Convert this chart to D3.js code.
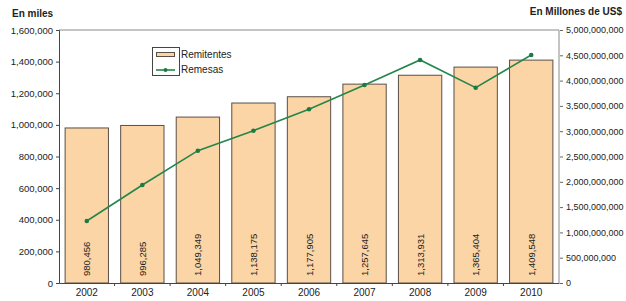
<!DOCTYPE html>
<html>
<head>
<meta charset="utf-8">
<script src="https://cdn.jsdelivr.net/npm/d3@7"></script>
<style>
  body { margin: 0; background: #fff; }
  text { font-family: "Liberation Sans", Arial, sans-serif; }
</style>
</head>
<body>
<svg id="drawing_region"></svg>
<script>
const years = ['2002', '2003', '2004', '2005', '2006', '2007', '2008', '2009', '2010'];
const remitentes = [980456, 996285, 1049349, 1138175, 1177905, 1257645, 1313931, 1365404, 1409548];
const remesas = [1225e6, 1937e6, 2615e6, 3010e6, 3433e6, 3913e6, 4407e6, 3860e6, 4506e6];
const leftTicks = [0, 200000, 400000, 600000, 800000, 1000000, 1200000, 1400000, 1600000];
const rightTicks = [0, 5e8, 1e9, 1.5e9, 2e9, 2.5e9, 3e9, 3.5e9, 4e9, 4.5e9, 5e9];

const width = 626, height = 301;
const margin = { top: 30, right: 67, bottom: 18, left: 59 };
const innerW = width - margin.left - margin.right;
const innerH = height - margin.top - margin.bottom;
const fmt = d3.format(',');

const svg = d3.select('#drawing_region')
  .attr('width', width)
  .attr('height', height);

const g = svg.append('g')
  .attr('transform', `translate(${margin.left},${margin.top})`);

const x = d3.scaleBand().domain(years).range([0, innerW]).paddingInner(0.22).paddingOuter(0.11);
const yL = d3.scaleLinear().domain([0, 1600000]).range([innerH, 0]);
const yR = d3.scaleLinear().domain([0, 5e9]).range([innerH, 0]);

// frame (top and right)
g.append('path')
  .attr('d', `M0,0H${innerW}V${innerH}`)
  .attr('fill', 'none')
  .attr('stroke', '#8a8a8a')
  .attr('stroke-width', 1);

// bars
g.selectAll('rect.bar')
  .data(remitentes)
  .enter()
  .append('rect')
  .attr('class', 'bar')
  .attr('x', (d, i) => x(years[i]))
  .attr('y', d => yL(d))
  .attr('width', x.bandwidth())
  .attr('height', d => innerH - yL(d))
  .attr('fill', '#fcd5a6')
  .attr('stroke', '#5a4f46')
  .attr('stroke-width', 1);

// bar labels
g.selectAll('text.val')
  .data(remitentes)
  .enter()
  .append('text')
  .attr('class', 'val')
  .attr('transform', (d, i) => `translate(${x(years[i]) + x.bandwidth() / 2 + 3.5},${innerH - 7}) rotate(-90)`)
  .attr('font-size', '9.5px')
  .attr('fill', '#222')
  .text(d => fmt(d));

// left axis
const axL = g.append('g')
  .call(d3.axisLeft(yL).tickValues(leftTicks).tickSize(3).tickPadding(3).tickFormat(fmt));
axL.select('.domain').attr('stroke', '#444');
axL.selectAll('.tick line').attr('stroke', '#444');
axL.selectAll('text').attr('font-size', '9.5px').attr('fill', '#222').attr('font-family', '"Liberation Sans", Arial, sans-serif');

// right axis
const axR = g.append('g')
  .attr('transform', `translate(${innerW + 1},0)`)
  .call(d3.axisRight(yR).tickValues(rightTicks).tickSize(3).tickPadding(3).tickFormat(fmt));
axR.select('.domain').remove();
axR.selectAll('.tick line').attr('stroke', '#666');
axR.selectAll('text').attr('font-size', '9px').attr('fill', '#222').attr('font-family', '"Liberation Sans", Arial, sans-serif');

// bottom axis
const axB = g.append('g')
  .attr('transform', `translate(0,${innerH})`)
  .call(d3.axisBottom(x).tickSize(0).tickPadding(6));
axB.select('.domain').attr('stroke', '#444');
axB.selectAll('text').attr('font-size', '10px').attr('fill', '#222').attr('font-family', '"Liberation Sans", Arial, sans-serif');
g.append('g').selectAll('line')
  .data(years.slice(1))
  .enter()
  .append('line')
  .attr('x1', d => x(d) - x.step() * x.paddingInner() / 2)
  .attr('x2', d => x(d) - x.step() * x.paddingInner() / 2)
  .attr('y1', innerH)
  .attr('y2', innerH + 3)
  .attr('stroke', '#444');

// line
const line = d3.line()
  .x((d, i) => x(years[i]) + x.bandwidth() / 2)
  .y(d => yR(d));
g.append('path')
  .datum(remesas)
  .attr('d', line)
  .attr('fill', 'none')
  .attr('stroke', '#23864a')
  .attr('stroke-width', 1.6);
g.selectAll('circle.pt')
  .data(remesas)
  .enter()
  .append('circle')
  .attr('class', 'pt')
  .attr('cx', (d, i) => x(years[i]) + x.bandwidth() / 2)
  .attr('cy', d => yR(d))
  .attr('r', 2.3)
  .attr('fill', '#1f7a42');

// axis titles
svg.append('text')
  .attr('x', 12).attr('y', 17)
  .attr('font-size', '10px').attr('font-weight', 'bold').attr('fill', '#222')
  .text('En miles');
svg.append('text')
  .attr('x', 622).attr('y', 15)
  .attr('text-anchor', 'end')
  .attr('font-size', '10px').attr('font-weight', 'bold').attr('fill', '#222')
  .text('En Millones de US$');

// legend
const lg = svg.append('g');
lg.append('rect')
  .attr('x', 152.5).attr('y', 47.5).attr('width', 27).attr('height', 28)
  .attr('fill', '#fff').attr('stroke', '#444');
lg.append('rect')
  .attr('x', 156.5).attr('y', 52.5).attr('width', 18).attr('height', 4)
  .attr('fill', '#fcd5a6').attr('stroke', '#5a4f46');
lg.append('line')
  .attr('x1', 156).attr('x2', 175).attr('y1', 70).attr('y2', 70)
  .attr('stroke', '#23864a').attr('stroke-width', 1.6);
lg.append('circle')
  .attr('cx', 165.5).attr('cy', 70).attr('r', 2)
  .attr('fill', '#1f7a42');
lg.append('text')
  .attr('x', 181).attr('y', 58)
  .attr('font-size', '10px').attr('fill', '#222')
  .text('Remitentes');
lg.append('text')
  .attr('x', 181).attr('y', 73)
  .attr('font-size', '10px').attr('fill', '#222')
  .text('Remesas');
</script>
</body>
</html>
